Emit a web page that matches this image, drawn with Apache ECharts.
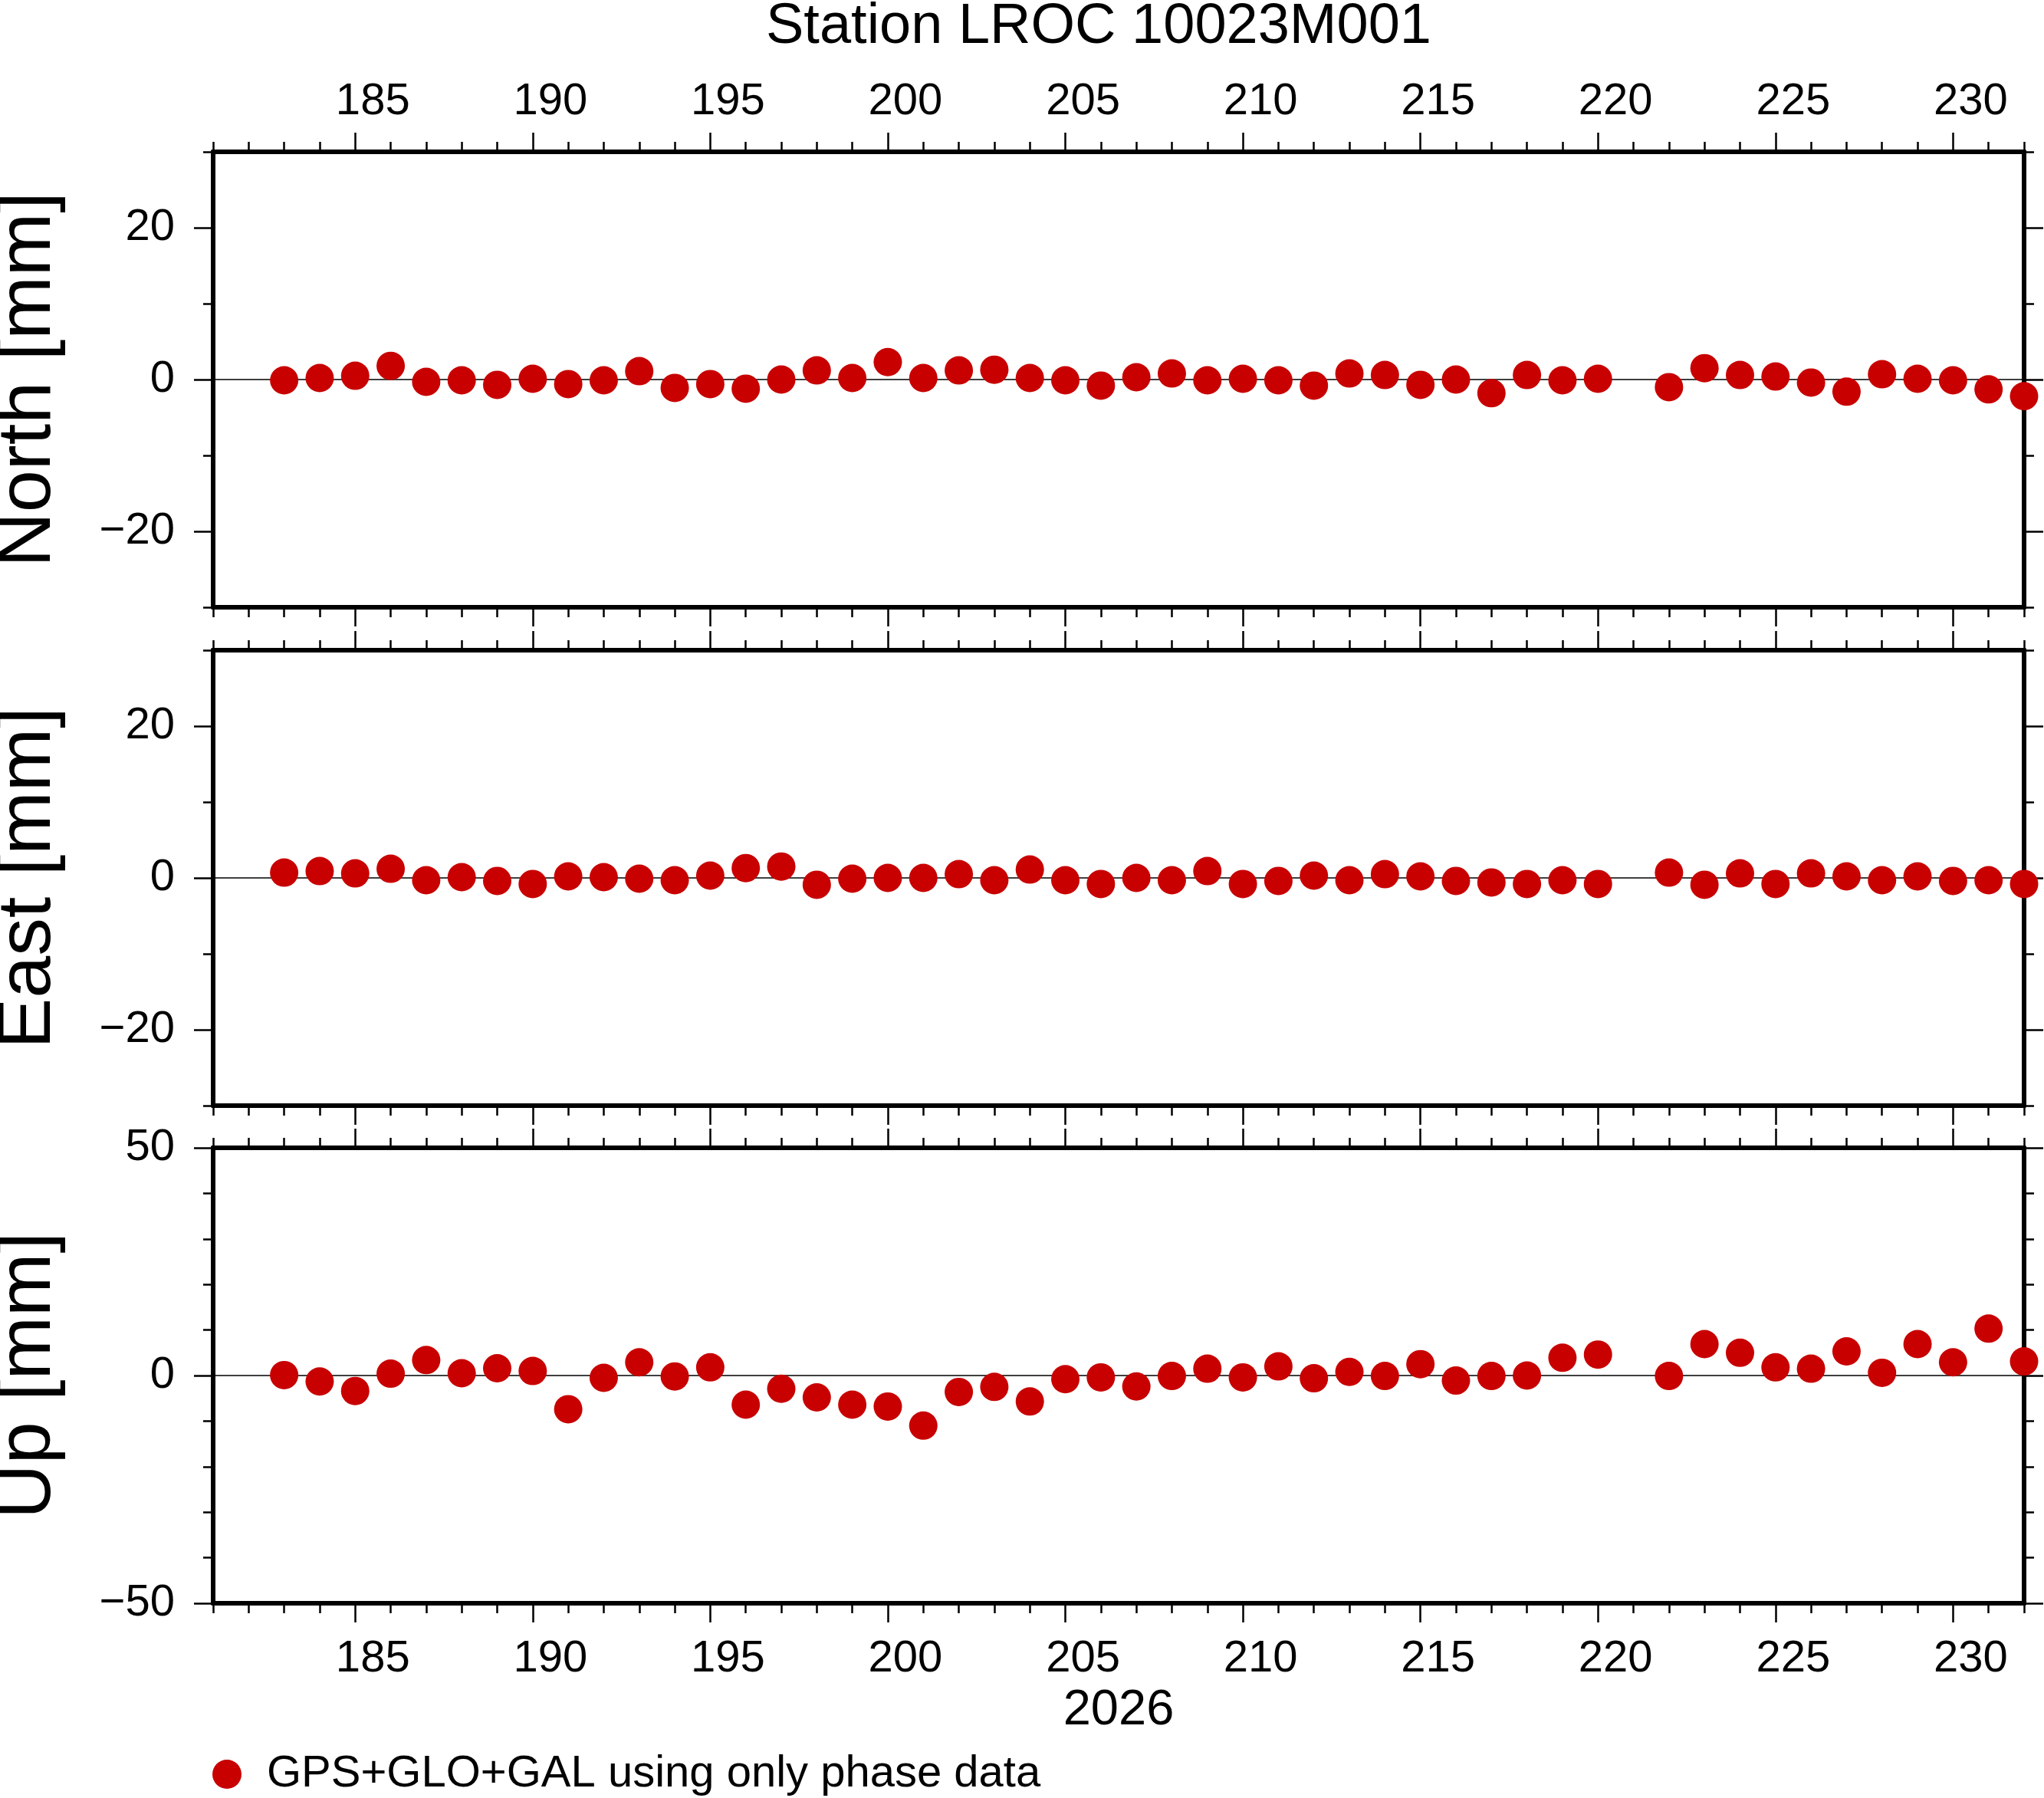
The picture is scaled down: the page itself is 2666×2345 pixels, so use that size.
<!DOCTYPE html>
<html>
<head>
<meta charset="utf-8">
<title>Station LROC 10023M001</title>
<script src="https://cdn.jsdelivr.net/npm/echarts@6.0.0/dist/echarts.min.js"></script>
<style>
  html, body { margin: 0; padding: 0; background: #fff; }
  #chart { width: 2666px; height: 2345px; }
</style>
</head>
<body>
<div id="chart"></div>
<script>
// day of year 2026 (221 missing)
const days = [183, 184, 185, 186, 187, 188, 189, 190, 191, 192, 193, 194, 195, 196, 197, 198, 199, 200,
  201, 202, 203, 204, 205, 206, 207, 208, 209, 210, 211, 212, 213, 214, 215, 216, 217, 218, 219, 220,
  222, 223, 224, 225, 226, 227, 228, 229, 230, 231, 232];
// residuals in mm
const north = [-0.1, 0.2, 0.5, 1.8, -0.3, -0.1, -0.7, 0.1, -0.6, -0.1, 1.1, -1.1, -0.6, -1.2, 0, 1.2, 0.2, 2.3,
  0.2, 1.2, 1.3, 0.2, -0.1, -0.8, 0.3, 0.8, -0.1, 0.1, -0.1, -0.8, 0.8, 0.6, -0.7, 0, -1.8, 0.6, -0.1, 0.1,
  -1.0, 1.5, 0.6, 0.4, -0.4, -1.6, 0.7, 0.1, -0.1, -1.3, -2.2];
const east = [0.7, 0.9, 0.6, 1.2, -0.3, 0.1, -0.4, -0.8, 0.2, 0.1, -0.1, -0.3, 0.3, 1.3, 1.5, -0.9, -0.1, 0,
  0, 0.5, -0.3, 1.1, -0.3, -0.8, 0, -0.3, 0.9, -0.8, -0.4, 0.3, -0.3, 0.5, 0.2, -0.4, -0.6, -0.8, -0.3, -0.8,
  0.7, -0.9, 0.6, -0.8, 0.6, 0.2, -0.3, 0.2, -0.4, -0.3, -0.8];
const up = [0.1, -1.3, -3.4, 0.4, 3.4, 0.5, 1.6, 1.0, -7.4, -0.5, 2.9, -0.2, 1.8, -6.4, -2.9, -4.8, -6.4, -6.8,
  -11.0, -3.6, -2.5, -5.7, -0.8, -0.4, -2.4, -0.1, 1.5, -0.4, 2.0, -0.6, 0.8, -0.1, 2.5, -1.1, -0.1, 0, 3.9, 4.6,
  -0.1, 6.9, 5.0, 1.8, 1.5, 5.3, 0.6, 6.9, 2.9, 10.3, 3.1];

const xTicks = [185, 190, 195, 200, 205, 210, 215, 220, 225, 230];
const neTicks = [-20, 0, 20];
const upTicks = [-50, 0, 50];

const panels = [
  { name: 'North [mm]', values: north, min: -30, max: 30, ticks: neTicks, minor: 10, top: 198 },
  { name: 'East [mm]', values: east, min: -30, max: 30, ticks: neTicks, minor: 10, top: 848 },
  { name: 'Up [mm]', values: up, min: -50, max: 50, ticks: upTicks, minor: 10, top: 1497 }
];
const seriesName = 'GPS+GLO+GAL using only phase data';
const font = 'Liberation Sans';
const red = '#c80000';

function minus(v) { return String(v).replace('-', '\u2212'); }

let grids = [], xAxes = [], yAxes = [], series = [];
panels.forEach(function (p, g) {
  grids.push({ left: 278, right: 26, top: p.top, height: 594, outerBoundsMode: 'none', containLabel: false });
  let xBase = {
    gridIndex: g, type: 'value', min: 181, max: 232,
    splitLine: { show: false },
    axisLine: { show: true, onZero: false, lineStyle: { color: '#000', width: 6 } }
  };
  // bottom, major (series axis)
  xAxes.push(Object.assign({}, xBase, {
    position: 'bottom',
    name: g == 2 ? '2026' : '', nameLocation: 'middle', nameGap: 108,
    nameTextStyle: { fontSize: 65, color: '#000', fontFamily: font },
    axisTick: { show: true, customValues: xTicks, length: 25, lineStyle: { color: '#000', width: 2.5 } },
    axisLabel: { show: g == 2, customValues: xTicks, margin: 44, fontSize: 58, color: '#000',
      fontFamily: font, padding: [0, 0, 0, 46] }
  }));
  // bottom, minor
  xAxes.push(Object.assign({}, xBase, {
    position: 'bottom', interval: 1,
    axisTick: { show: true, length: 13, lineStyle: { color: '#000', width: 2.5 } },
    axisLabel: { show: false }
  }));
  // top, major
  xAxes.push(Object.assign({}, xBase, {
    position: 'top',
    axisTick: { show: true, customValues: xTicks, length: 25, lineStyle: { color: '#000', width: 2.5 } },
    axisLabel: { show: g == 0, customValues: xTicks, margin: 36, fontSize: 58, color: '#000',
      fontFamily: font, padding: [0, 0, 0, 46] }
  }));
  // top, minor
  xAxes.push(Object.assign({}, xBase, {
    position: 'top', interval: 1,
    axisTick: { show: true, length: 13, lineStyle: { color: '#000', width: 2.5 } },
    axisLabel: { show: false }
  }));
  // zero reference line
  xAxes.push({
    gridIndex: g, type: 'value', min: 181, max: 232, position: 'bottom',
    splitLine: { show: false }, axisTick: { show: false }, axisLabel: { show: false },
    axisLine: { show: true, onZero: true, onZeroAxisIndex: g * 4, lineStyle: { color: '#000', width: 1.5 } }
  });

  let yBase = {
    gridIndex: g, type: 'value', min: p.min, max: p.max,
    splitLine: { show: false },
    axisLine: { show: true, onZero: false, lineStyle: { color: '#000', width: 6 } }
  };
  ['left', 'right'].forEach(function (side) {
    yAxes.push(Object.assign({}, yBase, {
      position: side,
      name: side == 'left' ? p.name : '', nameLocation: 'middle', nameRotate: 90, nameGap: 191,
      nameTextStyle: { fontSize: 99, color: '#000', fontFamily: font },
      axisTick: { show: true, customValues: p.ticks, length: 25, lineStyle: { color: '#000', width: 2.5 } },
      axisLabel: { show: side == 'left', customValues: p.ticks, margin: 50, fontSize: 58, color: '#000',
        fontFamily: font, formatter: minus }
    }));
    yAxes.push(Object.assign({}, yBase, {
      position: side, interval: p.minor,
      axisTick: { show: true, length: 13, lineStyle: { color: '#000', width: 2.5 } },
      axisLabel: { show: false }
    }));
  });

  series.push({
    type: 'scatter', name: seriesName,
    xAxisIndex: g * 5, yAxisIndex: g * 4,
    symbol: 'circle', symbolSize: 37,
    itemStyle: { color: red, opacity: 1 },
    emphasis: { disabled: true },
    data: days.map(function (d, i) { return [d, p.values[i]]; })
  });
});

let chart = echarts.init(document.getElementById('chart'));
chart.setOption({
  animation: false,
  backgroundColor: '#fff',
  textStyle: { fontFamily: font },
  title: {
    text: 'Station LROC 10023M001', left: 994, top: -6,
    textStyle: { fontSize: 74, fontWeight: 'normal', color: '#000', fontFamily: font }
  },
  legend: {
    left: 272, top: 2280, orient: 'horizontal',
    icon: 'circle', itemWidth: 38, itemHeight: 38,
    data: [seriesName],
    itemStyle: { opacity: 1 },
    textStyle: { fontSize: 58, color: '#000', fontFamily: font, padding: [0, 0, 0, 28] }
  },
  grid: grids,
  xAxis: xAxes,
  yAxis: yAxes,
  series: series
});
</script>
</body>
</html>
